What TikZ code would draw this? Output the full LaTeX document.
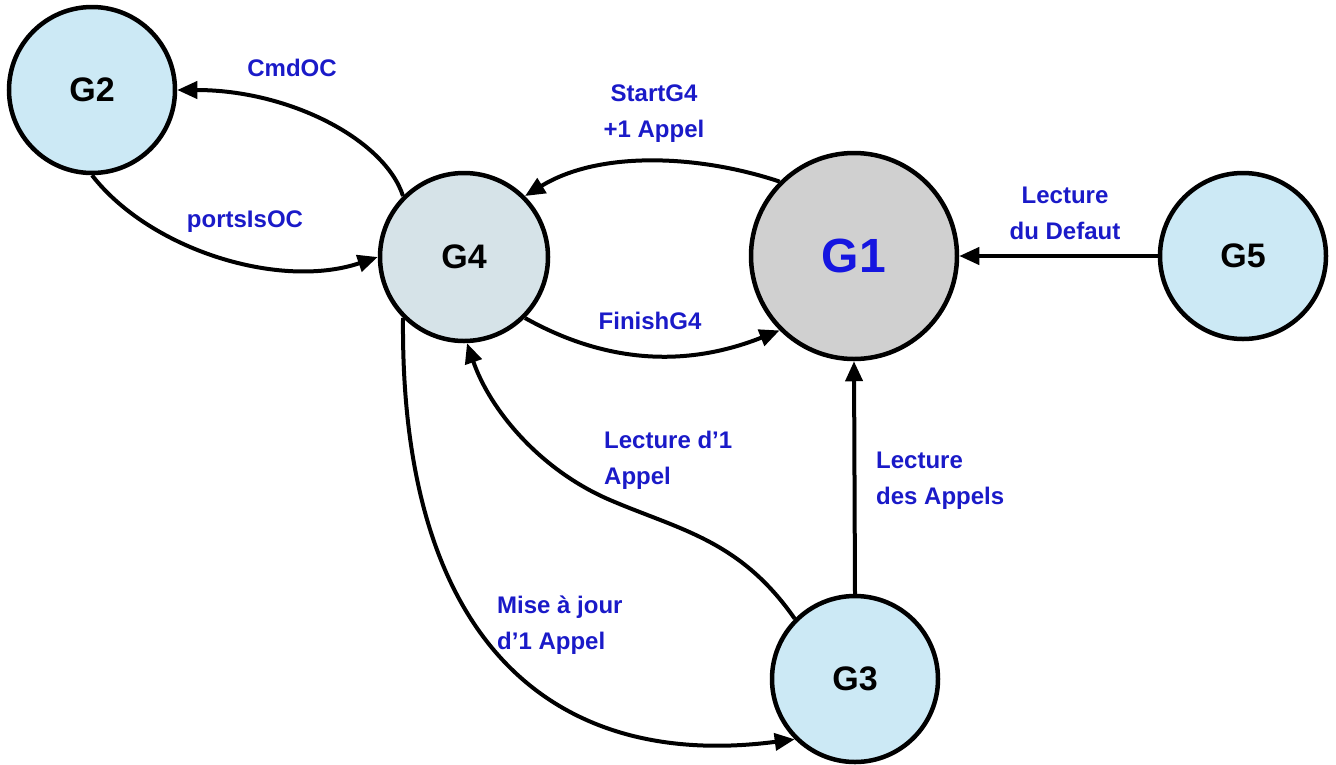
\documentclass[tikz,border=0pt]{standalone}
\usepackage{fontspec}
\setmainfont{Liberation Sans}
\usetikzlibrary{arrows.meta}
\definecolor{lblue}{RGB}{204,233,245}
\definecolor{gblue}{RGB}{214,227,232}
\definecolor{ggray}{RGB}{208,208,208}
\definecolor{lbltxt}{RGB}{26,26,200}
\definecolor{gonetxt}{RGB}{21,21,224}
\tikzset{
  state/.style={circle, draw=black, line width=4.5pt, inner sep=0pt, font=\bfseries\fontsize{34}{40}\selectfont},
  conn/.style={line width=4pt, -{Triangle[length=20pt,width=17pt]}},
  lbl/.style={text=lbltxt, inner sep=0pt, font=\bfseries\fontsize{24}{36}\selectfont}
}
\begin{document}
\begin{tikzpicture}[x=1pt,y=-1pt]
\useasboundingbox (0,0) rectangle (1336,764);
\node[state, fill=lblue, minimum size=166pt] (g2) at (92,90) {G2};
\node[state, fill=gblue, minimum size=168pt] (g4) at (464,257) {G4};
\node[state, fill=ggray, minimum size=206pt, text=gonetxt, font=\bfseries\fontsize{48}{54}\selectfont] (g1) at (854,256) {G1};
\node[state, fill=lblue, minimum size=166pt] (g5) at (1243,256) {G5};
\node[state, fill=lblue, minimum size=166pt] (g3) at (855,679) {G3};

\draw[conn] (g4.135) .. controls (385,140) and (290,90) .. (g2.east);
\draw[conn] (g2.270) .. controls (150,250) and (280,290) .. (g4.west);
\draw[conn] (g1.135) .. controls (700,155) and (600,150) .. (g4.45);
\draw[conn] (g4.315) .. controls (600,360) and (680,370) .. (g1.225);
\draw[conn] (g5.west) -- (g1.east);
\draw[conn] (g3.north) -- (g1.south);
\coordinate (mid) at (610,500);
\draw[conn] (g3.135) .. controls (740,540) and (680,530) .. (mid) .. controls (540,470) and (490,410) .. (g4.272);
\draw[conn] (g4.225) .. controls (400,650) and (560,770) .. (g3.225);

\node[lbl] (lcmd) at (292,68) {CmdOC};
\node[lbl] (lports) at (245,222) {portsIsOC};
\node[lbl, align=center] (lstart) at (654,114) {StartG4\\+1 Appel};
\node[lbl] (lfinish) at (650,321) {FinishG4};
\node[lbl, align=center] (ldef) at (1065,213) {Lecture\\du Defaut};
\node[lbl, align=left, anchor=west] (lun) at (604,460) {Lecture d’1\\Appel};
\node[lbl, align=left, anchor=west] (ldes) at (876,481) {Lecture\\des Appels};
\node[lbl, align=left, anchor=west] (lmise) at (497,625) {Mise à jour\\d’1 Appel};
\end{tikzpicture}
\end{document}
